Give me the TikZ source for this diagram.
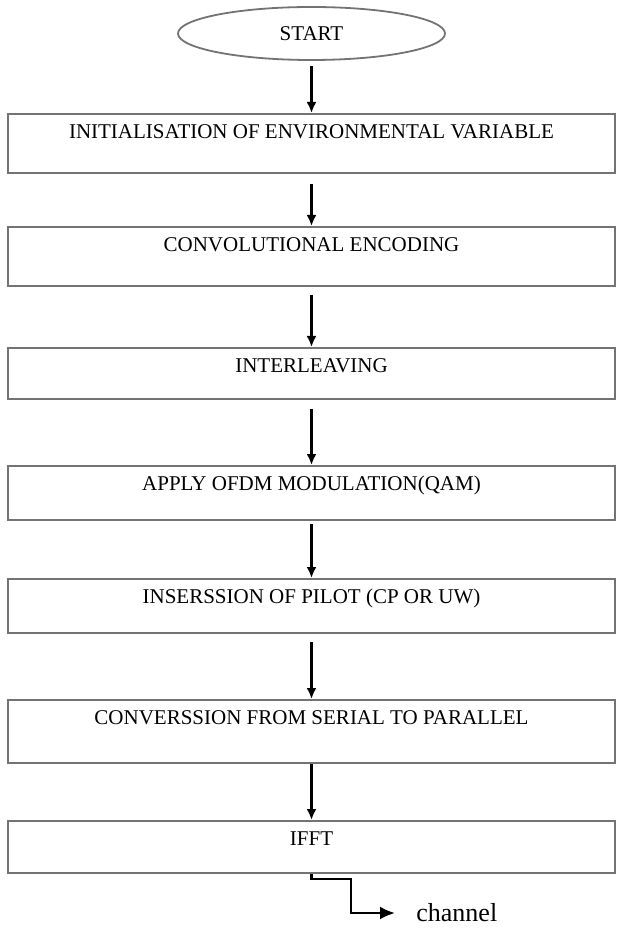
\documentclass[tikz,border=0pt]{standalone}
\usepackage{fontspec}
\setmainfont{Liberation Serif}
\usetikzlibrary{arrows.meta, shapes.geometric, positioning}
\tikzstyle{stepbox} = [draw=black!55, line width=0.9pt, rectangle, anchor=north,
    minimum width=303.5pt, inner sep=0pt, text height=12.5pt,
    font=\fontsize{10.5}{12}\selectfont]
\tikzstyle{startbox} = [draw=black!55, line width=0.9pt, ellipse,
    minimum width=133.5pt, minimum height=26.5pt, inner sep=0pt,
    font=\fontsize{10.5}{12}\selectfont]
\tikzstyle{flowline} = [-{Latex[length=5.5pt,width=5pt]}, line width=1.1pt]
\tikzstyle{outline} = [-{Latex[length=7.5pt,width=6.5pt]}, line width=1.2pt]
\begin{document}
\begin{tikzpicture}[x=0.5pt, y=-0.5pt]
    \useasboundingbox (0,0) rectangle (617,929);
    \node [startbox] (start) at (311.5,33.5) {START};
    \node [stepbox, text depth=17pt] (init) at (311.5,113) {INITIALISATION OF ENVIRONMENTAL VARIABLE};
    \node [stepbox, text depth=17pt] (conv) at (311.5,226) {CONVOLUTIONAL ENCODING};
    \node [stepbox, text depth=13pt] (inter) at (311.5,347) {INTERLEAVING};
    \node [stepbox, text depth=14.5pt] (ofdm) at (311.5,465) {APPLY OFDM MODULATION(QAM)};
    \node [stepbox, text depth=14.5pt] (pilot) at (311.5,578) {INSERSSION OF PILOT (CP OR UW)};
    \node [stepbox, text depth=19pt] (serpar) at (311.5,699) {CONVERSSION FROM SERIAL TO PARALLEL};
    \node [stepbox, text depth=13.5pt] (ifft) at (311.5,820) {IFFT};
    \node [anchor=west, inner sep=0pt, font=\fontsize{13}{15}\selectfont] (channel) at (416,913) {channel};
    \coordinate (bend) at (351,879);

    \draw [flowline] ([yshift=-2.5pt]start.south) -- (init.north);
    \draw [flowline] ([yshift=-5pt]init.south) -- (conv.north);
    \draw [flowline] ([yshift=-4pt]conv.south) -- (inter.north);
    \draw [flowline] ([yshift=-4.5pt]inter.south) -- (ofdm.north);
    \draw [flowline] ([yshift=-1.5pt]ofdm.south) -- (pilot.north);
    \draw [flowline] ([yshift=-4pt]pilot.south) -- (serpar.north);
    \draw [flowline] (serpar.south) -- (ifft.north);
    \draw [outline] (ifft.south) |- (bend) |- ([xshift=-10.5pt]channel.west);
  \end{tikzpicture}
\end{document}
